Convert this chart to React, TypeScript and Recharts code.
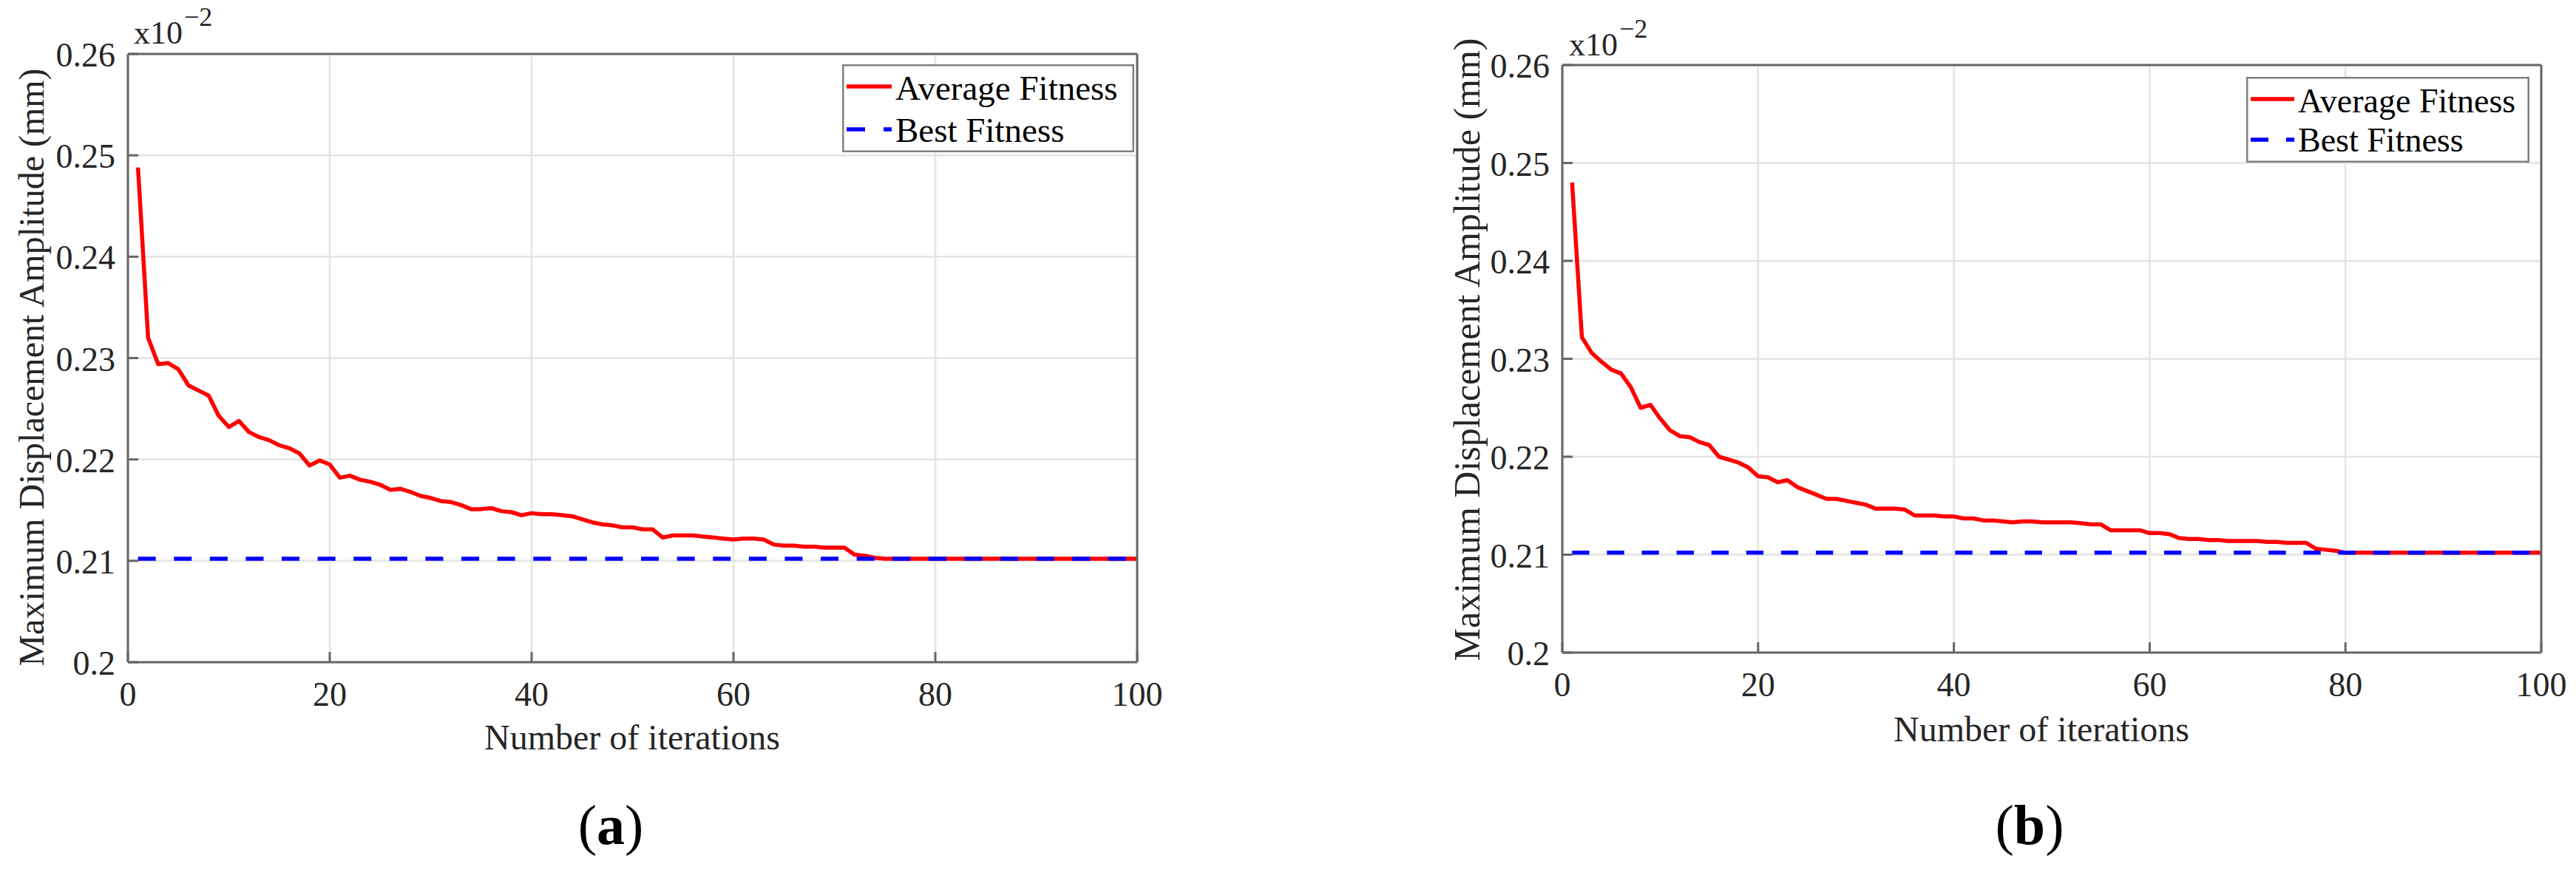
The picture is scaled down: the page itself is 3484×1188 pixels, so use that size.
import React from 'react';
import { LineChart, Line, XAxis, YAxis, CartesianGrid, Legend } from 'recharts';

// ---------- data ----------
const iterations: number[] = Array.from({ length: 100 }, (_, i) => i + 1);
const xTicks = [0, 20, 40, 60, 80, 100];
const yTicks = [0.2, 0.21, 0.22, 0.23, 0.24, 0.25, 0.26];
const seriesNames = ['Average Fitness', 'Best Fitness'];
const panelLabels = ['(a)', '(b)'];
const xTitle = 'Number of iterations';
const yTitle = 'Maximum Displacement Amplitude (mm)';

const avgFitnessA = [
  0.2488, 0.2320, 0.2294, 0.2295, 0.2289, 0.2273, 0.2268, 0.2263, 0.2243, 0.2232,
  0.2238, 0.2227, 0.2222, 0.2219, 0.2214, 0.2211, 0.2206, 0.2194, 0.2199, 0.2195,
  0.2182, 0.2184, 0.2180, 0.2178, 0.2175, 0.2170, 0.2171, 0.2168, 0.2164, 0.2162,
  0.2159, 0.2158, 0.2155, 0.2151, 0.2151, 0.2152, 0.2149, 0.2148, 0.2145, 0.2147,
  0.2146, 0.2146, 0.2145, 0.2144, 0.2141, 0.2138, 0.2136, 0.2135, 0.2133, 0.2133,
  0.2131, 0.2131, 0.2123, 0.2125, 0.2125, 0.2125, 0.2124, 0.2123, 0.2122, 0.2121,
  0.2122, 0.2122, 0.2121, 0.2116, 0.2115, 0.2115, 0.2114, 0.2114, 0.2113, 0.2113,
  0.2113, 0.2106, 0.2105, 0.2103, 0.2102, 0.2102, 0.2102, 0.2102, 0.2102, 0.2102,
  0.2102, 0.2102, 0.2102, 0.2102, 0.2102, 0.2102, 0.2102, 0.2102, 0.2102, 0.2102,
  0.2102, 0.2102, 0.2102, 0.2102, 0.2102, 0.2102, 0.2102, 0.2102, 0.2102, 0.2102,
];
const bestFitnessA = [
  0.2102, 0.2102, 0.2102, 0.2102, 0.2102, 0.2102, 0.2102, 0.2102, 0.2102, 0.2102,
  0.2102, 0.2102, 0.2102, 0.2102, 0.2102, 0.2102, 0.2102, 0.2102, 0.2102, 0.2102,
  0.2102, 0.2102, 0.2102, 0.2102, 0.2102, 0.2102, 0.2102, 0.2102, 0.2102, 0.2102,
  0.2102, 0.2102, 0.2102, 0.2102, 0.2102, 0.2102, 0.2102, 0.2102, 0.2102, 0.2102,
  0.2102, 0.2102, 0.2102, 0.2102, 0.2102, 0.2102, 0.2102, 0.2102, 0.2102, 0.2102,
  0.2102, 0.2102, 0.2102, 0.2102, 0.2102, 0.2102, 0.2102, 0.2102, 0.2102, 0.2102,
  0.2102, 0.2102, 0.2102, 0.2102, 0.2102, 0.2102, 0.2102, 0.2102, 0.2102, 0.2102,
  0.2102, 0.2102, 0.2102, 0.2102, 0.2102, 0.2102, 0.2102, 0.2102, 0.2102, 0.2102,
  0.2102, 0.2102, 0.2102, 0.2102, 0.2102, 0.2102, 0.2102, 0.2102, 0.2102, 0.2102,
  0.2102, 0.2102, 0.2102, 0.2102, 0.2102, 0.2102, 0.2102, 0.2102, 0.2102, 0.2102,
];
const avgFitnessB = [
  0.2480, 0.2322, 0.2306, 0.2297, 0.2289, 0.2285, 0.2271, 0.2250, 0.2253, 0.2239,
  0.2227, 0.2221, 0.2220, 0.2215, 0.2212, 0.2200, 0.2197, 0.2194, 0.2189, 0.2180,
  0.2179, 0.2174, 0.2176, 0.2169, 0.2165, 0.2161, 0.2157, 0.2157, 0.2155, 0.2153,
  0.2151, 0.2147, 0.2147, 0.2147, 0.2146, 0.2140, 0.2140, 0.2140, 0.2139, 0.2139,
  0.2137, 0.2137, 0.2135, 0.2135, 0.2134, 0.2133, 0.2134, 0.2134, 0.2133, 0.2133,
  0.2133, 0.2133, 0.2132, 0.2131, 0.2131, 0.2125, 0.2125, 0.2125, 0.2125, 0.2122,
  0.2122, 0.2121, 0.2117, 0.2116, 0.2116, 0.2115, 0.2115, 0.2114, 0.2114, 0.2114,
  0.2114, 0.2113, 0.2113, 0.2112, 0.2112, 0.2112, 0.2106, 0.2105, 0.2104, 0.2102,
  0.2102, 0.2102, 0.2102, 0.2102, 0.2102, 0.2102, 0.2102, 0.2102, 0.2102, 0.2102,
  0.2102, 0.2102, 0.2102, 0.2102, 0.2102, 0.2102, 0.2102, 0.2102, 0.2102, 0.2102,
];
const bestFitnessB = [
  0.2102, 0.2102, 0.2102, 0.2102, 0.2102, 0.2102, 0.2102, 0.2102, 0.2102, 0.2102,
  0.2102, 0.2102, 0.2102, 0.2102, 0.2102, 0.2102, 0.2102, 0.2102, 0.2102, 0.2102,
  0.2102, 0.2102, 0.2102, 0.2102, 0.2102, 0.2102, 0.2102, 0.2102, 0.2102, 0.2102,
  0.2102, 0.2102, 0.2102, 0.2102, 0.2102, 0.2102, 0.2102, 0.2102, 0.2102, 0.2102,
  0.2102, 0.2102, 0.2102, 0.2102, 0.2102, 0.2102, 0.2102, 0.2102, 0.2102, 0.2102,
  0.2102, 0.2102, 0.2102, 0.2102, 0.2102, 0.2102, 0.2102, 0.2102, 0.2102, 0.2102,
  0.2102, 0.2102, 0.2102, 0.2102, 0.2102, 0.2102, 0.2102, 0.2102, 0.2102, 0.2102,
  0.2102, 0.2102, 0.2102, 0.2102, 0.2102, 0.2102, 0.2102, 0.2102, 0.2102, 0.2102,
  0.2102, 0.2102, 0.2102, 0.2102, 0.2102, 0.2102, 0.2102, 0.2102, 0.2102, 0.2102,
  0.2102, 0.2102, 0.2102, 0.2102, 0.2102, 0.2102, 0.2102, 0.2102, 0.2102, 0.2102,
];

// ---------- styles / layout ----------
const FONT = "'Liberation Serif', 'Times New Roman', Times, serif";
const TEXT = '#262626';
const AXIS = '#666666';
const GRID = '#e4e4e4';
const RED = '#ff0000';
const BLUE = '#0000ff';

type Layout = {
  left: number; width: number; height: number;
  plotL: number; plotT: number; plotR: number; plotB: number;
  dash: string;
  lg: { x: number; y: number; w: number; h: number; s0: number; sLen: number; r1: number; r2: number; tx: number; b1: number; b2: number; font: number; dash: string };
  xt: { x: number; y: number; size: number };
  yt: { x: number; y: number; size: number };
  exp: { x: number; y: number };
  pl: { x: number; y: number };
};

const layoutA: Layout = {
  left: 0, width: 1740, height: 1188,
  plotL: 173, plotT: 73, plotR: 1538, plotB: 896,
  dash: '24 24.6',
  lg: { x: 1139, y: 87, w: 395, h: 119, s0: 6, sLen: 61, r1: 30, r2: 88, tx: 72, b1: 48, b2: 105, font: 47, dash: '25 25' },
  xt: { x: 855, y: 1014, size: 48 },
  yt: { x: 59, y: 497, size: 48 },
  exp: { x: 181, y: 59 },
  pl: { x: 826, y: 1142 },
};
const layoutB: Layout = {
  left: 1742, width: 1742, height: 1188,
  plotL: 371, plotT: 88, plotR: 1695, plotB: 883,
  dash: '23.3 23.8',
  lg: { x: 1296, y: 104, w: 383, h: 116, s0: 6, sLen: 59, r1: 30, r2: 85, tx: 70, b1: 48, b2: 101, font: 46, dash: '24 24' },
  xt: { x: 1019, y: 1003, size: 48 },
  yt: { x: 259, y: 473, size: 50 },
  exp: { x: 380, y: 75 },
  pl: { x: 1003, y: 1142 },
};

const XTick = (props: any) => {
  const { x, y, payload } = props;
  return (
    <text x={x} y={y + 59} textAnchor="middle" fontFamily={FONT} fontSize={46} fill={TEXT}>
      {String(payload.value)}
    </text>
  );
};
const YTick = (props: any) => {
  const { x, y, payload } = props;
  return (
    <text x={x - 17} y={y + 17} textAnchor="end" fontFamily={FONT} fontSize={46} fill={TEXT}>
      {String(payload.value)}
    </text>
  );
};

const AxisTitle = (props: any) => {
  const { posX, posY, title, size, rot } = props;
  return (
    <text
      x={posX}
      y={posY}
      textAnchor="middle"
      fontFamily={FONT}
      fontSize={size}
      fill={TEXT}
      transform={rot ? `rotate(-90 ${posX} ${posY})` : undefined}
    >
      {title}
    </text>
  );
};

const makeLegend = (L: Layout) => (props: any) => {
  const payload = props.payload || [];
  const lg = L.lg;
  const rows = [lg.r1, lg.r2];
  const bases = [lg.b1, lg.b2];
  return (
    <svg width={lg.w} height={lg.h} style={{ display: 'block' }}>
      <rect x={1.25} y={1.25} width={lg.w - 2.5} height={lg.h - 2.5} fill="#ffffff" stroke="#808080" strokeWidth={2.5} />
      {seriesNames.map((name, i) => {
        const entry = payload[i];
        const color = entry && entry.color ? entry.color : i === 0 ? RED : BLUE;
        return (
          <g key={name}>
            <line
              x1={lg.s0}
              x2={lg.s0 + lg.sLen}
              y1={rows[i]}
              y2={rows[i]}
              stroke={color}
              strokeWidth={5.5}
              strokeDasharray={i === 1 ? lg.dash : undefined}
            />
            <text x={lg.tx} y={bases[i]} fontFamily={FONT} fontSize={lg.font} fill="#000000">
              {entry && entry.value ? entry.value : name}
            </text>
          </g>
        );
      })}
    </svg>
  );
};

const Panel = ({ L, avg, best, label }: { L: Layout; avg: number[]; best: number[]; label: string }) => {
  const data = iterations.map((it, i) => ({ iter: it, avg: avg[i], best: best[i] }));
  const yAxisW = 100;
  const xAxisH = 100;
  const margin = {
    top: L.plotT - 1,
    right: L.width - L.plotR - 1,
    bottom: L.height - L.plotB - xAxisH,
    left: L.plotL - yAxisW,
  };
  const axisLine = { stroke: AXIS, strokeWidth: 3 };
  const tickLine = { stroke: AXIS, strokeWidth: 3 };
  return (
    <div style={{ position: 'absolute', left: L.left, top: 0, width: L.width, height: L.height }}>
      <LineChart width={L.width} height={L.height} data={data} margin={margin}>
        <CartesianGrid stroke={GRID} strokeWidth={2.5} />
        <XAxis
          dataKey="iter"
          type="number"
          domain={[0, 100]}
          ticks={xTicks}
          interval={0}
          height={xAxisH}
          axisLine={axisLine}
          tickLine={tickLine}
          tickSize={-14}
          tickMargin={14}
          tick={<XTick />}
          allowDataOverflow
          label={<AxisTitle posX={L.xt.x} posY={L.xt.y} title={xTitle} size={L.xt.size} rot={false} />}
        />
        <XAxis
          xAxisId="top"
          orientation="top"
          dataKey="iter"
          type="number"
          domain={[0, 100]}
          ticks={xTicks}
          interval={0}
          height={1}
          axisLine={axisLine}
          tickLine={tickLine}
          tickSize={-14}
          tick={false}
          allowDataOverflow
        />
        <YAxis
          type="number"
          domain={[0.2, 0.26]}
          ticks={yTicks}
          interval={0}
          width={yAxisW}
          axisLine={axisLine}
          tickLine={tickLine}
          tickSize={-14}
          tickMargin={14}
          tick={<YTick />}
          allowDataOverflow
          label={<AxisTitle posX={L.yt.x} posY={L.yt.y} title={yTitle} size={L.yt.size} rot={true} />}
        />
        <YAxis
          yAxisId="right"
          orientation="right"
          type="number"
          domain={[0.2, 0.26]}
          ticks={yTicks}
          interval={0}
          width={1}
          axisLine={axisLine}
          tickLine={tickLine}
          tickSize={-14}
          tick={false}
          allowDataOverflow
        />
        <Legend
          layout="vertical"
          verticalAlign="middle"
          align="center"
          wrapperStyle={{ left: L.lg.x, top: L.lg.y, width: L.lg.w, height: L.lg.h }}
          content={makeLegend(L)}
        />
        <Line
          type="linear"
          dataKey="avg"
          name={seriesNames[0]}
          stroke={RED}
          strokeWidth={5.5}
          strokeLinejoin="round"
          dot={false}
          activeDot={false}
          isAnimationActive={false}
        />
        <Line
          type="linear"
          dataKey="best"
          name={seriesNames[1]}
          stroke={BLUE}
          strokeWidth={5.5}
          strokeDasharray={L.dash}
          dot={false}
          activeDot={false}
          isAnimationActive={false}
        />
      </LineChart>
      <svg
        width={L.width}
        height={L.height}
        style={{ position: 'absolute', left: 0, top: 0, pointerEvents: 'none' }}
      >
        <text x={L.exp.x} y={L.exp.y} fontFamily={FONT} fontSize={44} fill={TEXT}>x10</text>
        <text x={L.exp.x + 68} y={L.exp.y - 24} fontFamily={FONT} fontSize={36} fill={TEXT}>−2</text>
        <text x={L.pl.x} y={L.pl.y} textAnchor="middle" fontFamily={FONT} fontSize={76} fill="#000000">
          (<tspan fontWeight="bold">{label.slice(1, -1)}</tspan>)
        </text>
      </svg>
    </div>
  );
};

export default function App() {
  return (
    <div
      style={{
        position: 'absolute',
        left: 0,
        top: 0,
        width: 3484,
        height: 1188,
        background: '#ffffff',
        overflow: 'hidden',
      }}
    >
      <Panel L={layoutA} avg={avgFitnessA} best={bestFitnessA} label={panelLabels[0]} />
      <Panel L={layoutB} avg={avgFitnessB} best={bestFitnessB} label={panelLabels[1]} />
    </div>
  );
}
